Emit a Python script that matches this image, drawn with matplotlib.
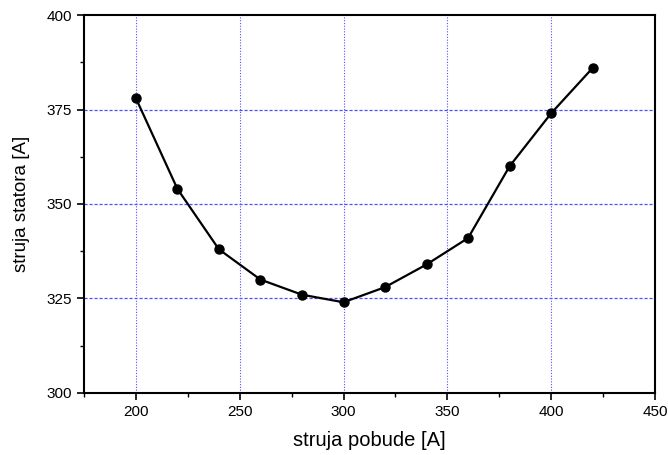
import matplotlib
matplotlib.use("Agg")
import matplotlib.pyplot as plt
from matplotlib.ticker import MultipleLocator

x_vals = [200, 220, 240, 260, 280, 300, 320, 340, 360, 380, 400, 420]
y_vals = [378, 354, 338, 330, 326, 324, 328, 334, 341, 360, 374, 386]
x_label = "struja pobude [A]"
y_label = "struja statora [A]"

plt.rcParams['font.family'] = ['Liberation Sans', 'DejaVu Sans']

fig = plt.figure(figsize=(6.68, 4.55), dpi=100)
ax = fig.add_axes([0.1257, 0.1363, 0.8548, 0.8307])

grid_col = '#5050ff'
for xv in [200, 250, 300, 350, 400]:
    ax.axvline(xv, color=grid_col, linestyle=(0, (1, 1.5)), linewidth=0.8, zorder=1)
for yv in [325, 350, 375]:
    ax.axhline(yv, color=grid_col, linestyle=(0, (2.5, 1.5)), linewidth=0.9, zorder=1)

ax.plot(x_vals, y_vals, color='black', linewidth=1.6, marker='o', markersize=6.5, zorder=3)

ax.set_xlim(175, 450)
ax.set_ylim(300, 400)
ax.xaxis.set_major_locator(MultipleLocator(50))
ax.xaxis.set_minor_locator(MultipleLocator(25))
ax.yaxis.set_major_locator(MultipleLocator(25))
ax.yaxis.set_minor_locator(MultipleLocator(12.5))
ax.tick_params(which='major', direction='out', length=5, width=1.2, labelsize=11)
ax.tick_params(which='minor', direction='out', length=3, width=1.0)
for s in ax.spines.values():
    s.set_linewidth(1.5)

ax.set_xlabel(x_label, fontsize=14.5, labelpad=9)
ax.set_ylabel(y_label, fontsize=13.5, labelpad=12)

fig.savefig("out.png", dpi=100)
